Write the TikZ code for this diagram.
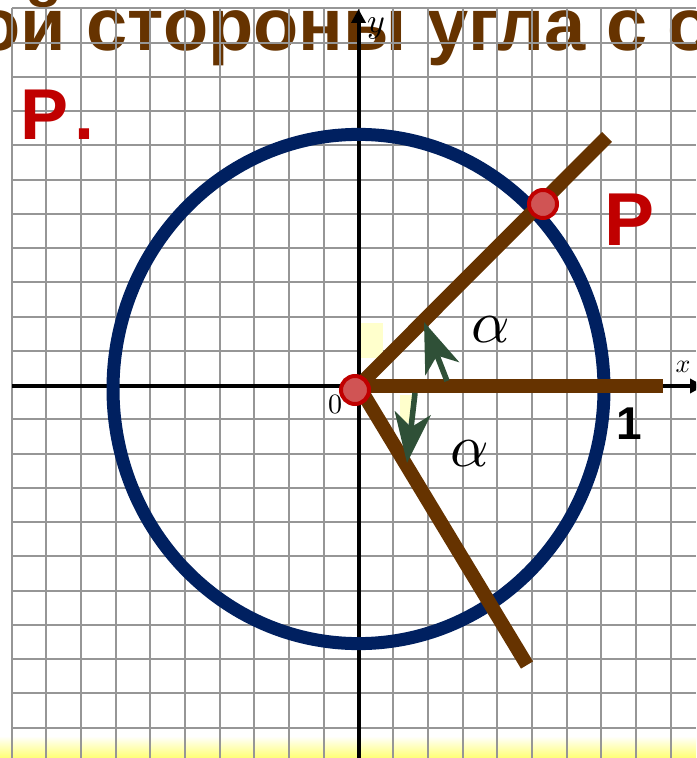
\documentclass[tikz,border=0pt]{standalone}
\usepackage{fontspec}
\setsansfont{Liberation Sans}
\usepackage{tikz}
\usetikzlibrary{arrows.meta,positioning,calc}
\definecolor{mybrown}{RGB}{102,51,0}
\definecolor{mynavy}{RGB}{0,32,96}
\definecolor{myred}{RGB}{192,0,0}
\definecolor{mydot}{RGB}{208,84,84}
\definecolor{mygreen}{RGB}{47,80,55}
\definecolor{mygrid}{RGB}{150,150,150}
\definecolor{mypale}{RGB}{255,255,204}
\newcommand{\sansb}[1]{\sffamily\bfseries\fontsize{#1}{#1}\selectfont}

\begin{document}
\begin{tikzpicture}[x=0.5pt, y=-0.5pt]
    \tikzstyle{ray}=[mybrown, line width=7pt]
    \tikzstyle{axis}=[black, line width=2pt, -{Triangle[length=7pt, width=7pt]}]
    \tikzstyle{dot}=[circle, draw=myred, line width=2pt, fill=mydot, minimum size=14pt, inner sep=0pt]
    \tikzstyle{turn}=[mygreen, line width=2.8pt, -{Stealth[length=25pt, width=18pt, inset=7pt]}]
    \tikzstyle{bold}=[inner sep=0pt]
    \useasboundingbox (0,0) rectangle (696,758);
    \clip (0,0) rectangle (696,758);
    \shade[top color=white, bottom color=yellow!55] (0,736) rectangle (696,758);
    \node[bold, anchor=base west, text=mybrown, font=\sansb{37}] (title) at (-25,51) {ой стороны угла с о};
    % grid
    \foreach \i in {0,...,19}
      \draw[mygrid, line width=1pt] ({11.8+34.67*\i},8.3) -- ({11.8+34.67*\i},758);
    \foreach \j in {0,...,21}
      \draw[mygrid, line width=1pt] (11.8,{8.3+34.25*\j}) -- (696,{8.3+34.25*\j});
    \fill[mypale] (360,323) rectangle (383,358);
    \fill[mypale] (400,395) rectangle (412,423);
    % axes
    \coordinate (O) at (358.5,386);
    \coordinate (xs) at (12,386);
    \coordinate (xe) at (704,386);
    \coordinate (ys) at (358.5,760);
    \coordinate (ye) at (358.5,9);
    \draw[axis] (xs) -- (xe);
    \draw[axis] (ys) -- (ye);
    \node (xlab) at (683,367) {\scalebox{1.3}{$x$}};
    \node (ylab) at (376,28) {\scalebox{1.7}{$y$}};
    \node (zero) at (335,404) {\scalebox{1.4}{$0$}};
    % unit circle
    \draw[mynavy, line width=6.5pt] (358.5,389) ellipse [x radius=245.5, y radius=254.6];
    % sides of the angles
    \coordinate (A) at (607,137);
    \coordinate (B) at (663,386);
    \coordinate (C) at (527,665);
    \draw[ray] (O) -- (A);
    \draw[ray] (O) -- (B);
    \draw[ray] (O) -- (C);
    \coordinate (t1s) at (447,381);
    \coordinate (t1e) at (424,322);
    \coordinate (t2s) at (415,393);
    \coordinate (t2e) at (407,463);
    \draw[turn] (t1s) -- (t1e);
    \draw[turn] (t2s) -- (t2e);
    \node[dot] (o) at (355,390) {};
    \node[dot] (p) at (543,204) {};
    \node (al1) at (491,330) {\scalebox{3}{$\alpha$}};
    \node (al2) at (470,454) {\scalebox{3}{$\alpha$}};
    \node[bold, text=myred, font=\sansb{37.5}] (plab) at (629,220) {P};
    \node[bold, text=myred, anchor=base west, font=\sansb{36}] (ptop) at (20.5,140) {P\kern3pt.};
    \node[bold, font=\sansb{23}] (one) at (629,424) {1};
\end{tikzpicture}
\end{document}
